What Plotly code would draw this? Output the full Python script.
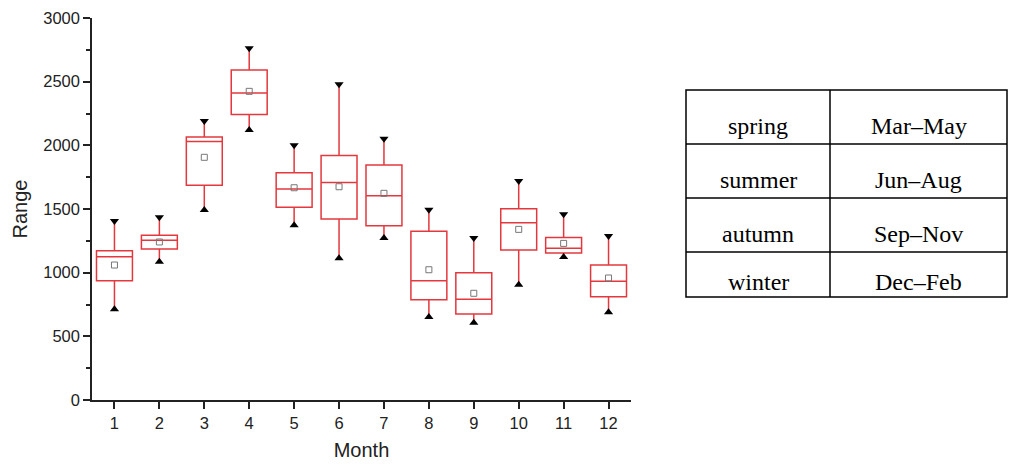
import plotly.graph_objects as go

months = [1, 2, 3, 4, 5, 6, 7, 8, 9, 10, 11, 12]
upper = [1406, 1435, 2191, 2762, 2000, 2479, 2052, 1495, 1272, 1720, 1458, 1288]
q3 = [1173, 1293, 2065, 2591, 1785, 1921, 1845, 1325, 1000, 1502, 1277, 1060]
median = [1125, 1254, 2031, 2411, 1657, 1709, 1604, 937, 791, 1392, 1191, 932]
q1 = [937, 1186, 1686, 2243, 1513, 1421, 1369, 788, 675, 1178, 1154, 811]
lower = [712, 1086, 1492, 2120, 1372, 1113, 1272, 652, 607, 906, 1123, 689]
mean = [1060, 1241, 1906, 2424, 1667, 1675, 1623, 1023, 838, 1340, 1230, 958]

seasons = ["spring", "summer", "autumn", "winter"]
season_months = ["Mar\u2013May", "Jun\u2013Aug", "Sep\u2013Nov", "Dec\u2013Feb"]

OFF = 8  # page body margin
W, H = 1024 - OFF, 465 - OFF
RED = "#e3383d"


def px(x):
    return (x - OFF) / W


def py(y):
    return 1 - (y - OFF) / H


fig = go.Figure()
fig.add_trace(go.Box(
    x=months, q1=q1, median=median, q3=q3, lowerfence=lower, upperfence=upper,
    width=0.8, whiskerwidth=0, fillcolor="rgba(255,255,255,0)",
    line=dict(color=RED, width=1.5), boxpoints=False, showlegend=False,
    hoverinfo="skip"))
fig.add_trace(go.Scatter(
    x=months, y=upper, mode="markers",
    marker=dict(symbol="triangle-down", size=8, color="black"),
    showlegend=False))
fig.add_trace(go.Scatter(
    x=months, y=lower, mode="markers",
    marker=dict(symbol="triangle-up", size=8, color="black"),
    showlegend=False))
fig.add_trace(go.Scatter(
    x=months, y=mean, mode="markers",
    marker=dict(symbol="square-open", size=6, color="#777777", line=dict(width=1)),
    showlegend=False))

x0, x1 = 92, 631
y0, y1 = 18, 400
fig.update_layout(
    width=W, height=H, margin=dict(l=0, r=0, t=0, b=0),
    paper_bgcolor="white", plot_bgcolor="white",
    font=dict(family="Liberation Sans, Arial", size=16, color="#222"),
    xaxis=dict(domain=[px(x0), px(x1)], range=[0.5, 12.5], tickmode="array",
               tickvals=months, ticktext=[str(m) for m in months],
               tickfont=dict(size=16.5),
               ticks="outside", ticklen=7, tickwidth=1.5, tickcolor="#222",
               showline=True, linecolor="#222", linewidth=1.5, showgrid=False,
               zeroline=False, automargin=False,
               title=dict(text="Month", font=dict(size=20), standoff=12)),
    yaxis=dict(domain=[py(y1), py(y0)], range=[0, 3000],
               tickmode="array", tickvals=[0, 500, 1000, 1500, 2000, 2500, 3000],
               tickfont=dict(size=16.5),
               ticks="outside", ticklen=7, tickwidth=1.5, tickcolor="#222",
               minor=dict(tickvals=[250, 750, 1250, 1750, 2250, 2750], ticks="outside",
                          ticklen=4, tickwidth=1.5, tickcolor="#222"),
               showline=True, linecolor="#222", linewidth=1.5, showgrid=False,
               zeroline=False, automargin=False,
               title=dict(text="Range", font=dict(size=20), standoff=10)),
)

# table
tx0, tx1, tmid = 686, 1007, 830
row_lines = [90, 144, 198, 252, 297]
text_y = [126, 180, 234, 282]
shapes = []
shapes.append(dict(type="rect", xref="paper", yref="paper", x0=px(tx0), x1=px(tx1),
                   y0=py(row_lines[-1]), y1=py(row_lines[0]), line=dict(color="black", width=1.5)))
shapes.append(dict(type="line", xref="paper", yref="paper", x0=px(tmid), x1=px(tmid),
                   y0=py(row_lines[-1]), y1=py(row_lines[0]), line=dict(color="black", width=1.5)))
for r in row_lines[1:-1]:
    shapes.append(dict(type="line", xref="paper", yref="paper", x0=px(tx0), x1=px(tx1),
                       y0=py(r), y1=py(r), line=dict(color="black", width=1.5)))
fig.update_layout(shapes=shapes)
for s, m, ty in zip(seasons, season_months, text_y):
    fig.add_annotation(x=px((tx0 + tmid) / 2), y=py(ty), xref="paper", yref="paper",
                       text=s, showarrow=False, xanchor="center", yanchor="middle",
                       font=dict(family="Liberation Serif, Times New Roman", size=24, color="black"))
    fig.add_annotation(x=px((tmid + tx1) / 2), y=py(ty), xref="paper", yref="paper",
                       text=m, showarrow=False, xanchor="center", yanchor="middle",
                       font=dict(family="Liberation Serif, Times New Roman", size=24, color="black"))

fig.write_html("out.html")
